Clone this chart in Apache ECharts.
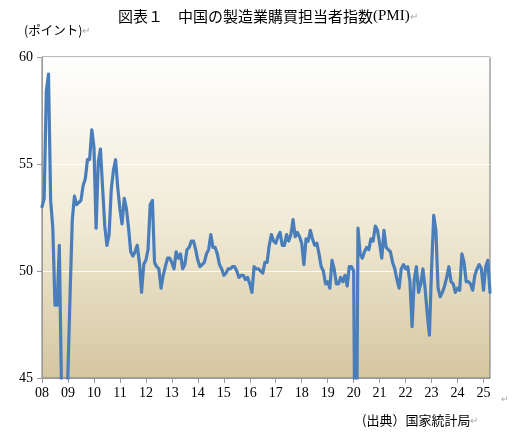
<!DOCTYPE html>
<html>
<head>
<meta charset="utf-8">
<script src="https://cdn.jsdelivr.net/npm/echarts@6/dist/echarts.min.js"></script>
<style>
  html, body { margin: 0; padding: 0; background: #fff; }
  #chart { width: 513px; height: 441px; }
</style>
</head>
<body>
<div id="chart"></div>
<script>
// 製造業PMI（月次、2008年1月～2025年4月）
var pmi2008 = [53.0, 53.4, 58.4, 59.2, 53.3, 52.0, 48.4, 48.4, 51.2, 44.6, 38.8, 41.2];
var pmi2009 = [45.3, 49.0, 52.4, 53.5, 53.1, 53.2, 53.3, 54.0, 54.3, 55.2, 55.2, 56.6];
var pmi2010 = [55.8, 52.0, 55.1, 55.7, 53.9, 52.1, 51.2, 51.7, 53.8, 54.7, 55.2, 53.9];
var pmi2011 = [52.9, 52.2, 53.4, 52.9, 52.0, 50.9, 50.7, 50.9, 51.2, 50.4, 49.0, 50.3];
var pmi2012 = [50.5, 51.0, 53.1, 53.3, 50.4, 50.2, 50.1, 49.2, 49.8, 50.2, 50.6, 50.6];
var pmi2013 = [50.4, 50.1, 50.9, 50.6, 50.8, 50.1, 50.3, 51.0, 51.1, 51.4, 51.4, 51.0];
var pmi2014 = [50.5, 50.2, 50.3, 50.4, 50.8, 51.0, 51.7, 51.1, 51.1, 50.8, 50.3, 50.1];
var pmi2015 = [49.8, 49.9, 50.1, 50.1, 50.2, 50.2, 50.0, 49.7, 49.8, 49.8, 49.6, 49.7];
var pmi2016 = [49.4, 49.0, 50.2, 50.1, 50.1, 50.0, 49.9, 50.4, 50.4, 51.2, 51.7, 51.4];
var pmi2017 = [51.3, 51.6, 51.8, 51.2, 51.2, 51.7, 51.4, 51.7, 52.4, 51.6, 51.8, 51.6];
var pmi2018 = [51.3, 50.3, 51.5, 51.4, 51.9, 51.5, 51.2, 51.3, 50.8, 50.2, 50.0, 49.4];
var pmi2019 = [49.5, 49.2, 50.5, 50.1, 49.4, 49.4, 49.7, 49.5, 49.8, 49.3, 50.2, 50.2];
var pmi2020 = [50.0, 35.7, 52.0, 50.8, 50.6, 50.9, 51.1, 51.0, 51.5, 51.4, 52.1, 51.9];
var pmi2021 = [51.3, 50.6, 51.9, 51.1, 51.0, 50.9, 50.4, 50.1, 49.6, 49.2, 50.1, 50.3];
var pmi2022 = [50.1, 50.2, 49.5, 47.4, 49.6, 50.2, 49.0, 49.4, 50.1, 49.2, 48.0, 47.0];
var pmi2023 = [50.1, 52.6, 51.9, 49.2, 48.8, 49.0, 49.3, 49.7, 50.2, 49.5, 49.4, 49.0];
var pmi2024 = [49.2, 49.1, 50.8, 50.4, 49.5, 49.5, 49.4, 49.1, 49.8, 50.1, 50.3, 50.1];
var pmi2025 = [49.1, 50.2, 50.5, 49.0];

var pmi = [].concat(pmi2008, pmi2009, pmi2010, pmi2011, pmi2012, pmi2013,
    pmi2014, pmi2015, pmi2016, pmi2017, pmi2018, pmi2019, pmi2020, pmi2021,
    pmi2022, pmi2023, pmi2024, pmi2025);

// カテゴリ（年月）
var startYear = 2008;
var months = [];
for (var i = 0; i < pmi.length; i++) {
    var y = startYear + Math.floor(i / 12);
    var m = (i % 12) + 1;
    months.push(y + '-' + (m < 10 ? '0' + m : m));
}

var yTicks = [45, 50, 55, 60];

var jpFont = '"Noto Sans CJK JP", sans-serif';
var numFont = '"Liberation Serif", "DejaVu Serif", serif';
var markColor = '#a8a8a8';   // 段落記号

var chart = echarts.init(document.getElementById('chart'));

var option = {
    animation: false,
    backgroundColor: '#ffffff',
    grid: {
        left: 42,
        top: 57,
        right: 23,
        bottom: 63,
        show: true,
        borderColor: '#767676',
        borderWidth: 1,
        backgroundColor: {
            type: 'linear', x: 0, y: 0, x2: 0, y2: 1,
            colorStops: [
                { offset: 0, color: '#fefefd' },
                { offset: 0.5, color: '#f1ebd7' },
                { offset: 1, color: '#d5c6a0' }
            ]
        }
    },
    xAxis: {
        type: 'category',
        data: months,
        boundaryGap: false,
        axisLine: { lineStyle: { color: '#9a9a9a', width: 1 } },
        axisTick: {
            show: true,
            length: 5,
            interval: function (idx) { return idx % 12 === 0; },
            lineStyle: { color: '#9a9a9a' }
        },
        axisLabel: {
            interval: function (idx) { return idx % 12 === 0; },
            formatter: function (v) { return v.substring(2, 4); },
            color: '#000',
            fontFamily: numFont,
            fontSize: 14,
            margin: 8
        },
        splitLine: { show: false }
    },
    yAxis: {
        type: 'value',
        min: yTicks[0],
        max: yTicks[yTicks.length - 1],
        interval: 5,
        axisLine: { show: true, lineStyle: { color: '#9a9a9a' } },
        axisTick: { show: true, length: 5, lineStyle: { color: '#9a9a9a' } },
        axisLabel: {
            color: '#000',
            fontFamily: numFont,
            fontSize: 14,
            margin: 9
        },
        splitLine: { show: true, lineStyle: { color: '#ffffff', width: 1, opacity: 0.9 } }
    },
    series: [{
        type: 'line',
        data: pmi,
        symbol: 'none',
        clip: true,
        lineStyle: { color: '#4a7ebb', width: 3.2, join: 'round', cap: 'round' },
        smooth: false
    }],
    graphic: [
        {
            type: 'text', left: 118, top: 9,
            style: {
                text: '{t|図表１　中国の製造業購買担当者指数}{s|(PMI)}{r|↵}',
                rich: {
                    t: { fill: '#000', fontSize: 15, fontFamily: jpFont },
                    s: { fill: '#000', fontSize: 15, fontFamily: numFont },
                    r: { fill: markColor, fontSize: 10, fontFamily: jpFont }
                }
            }
        },
        {
            type: 'text', left: 24, top: 24,
            style: {
                text: '{t|(ポイント)}{r|↵}',
                rich: {
                    t: { fill: '#000', fontSize: 12.5, fontFamily: jpFont },
                    r: { fill: markColor, fontSize: 10, fontFamily: jpFont }
                }
            }
        },
        {
            type: 'text', left: 501, top: 394,
            style: { text: '↵', fill: markColor, font: '9px ' + jpFont }
        },
        {
            type: 'text', left: 362, top: 414,
            style: {
                text: '{t|(出典）国家統計局}{r|↵}',
                rich: {
                    t: { fill: '#000', fontSize: 13, fontFamily: jpFont },
                    r: { fill: markColor, fontSize: 10, fontFamily: jpFont }
                }
            }
        }
    ]
};

chart.setOption(option);
</script>
</body>
</html>
